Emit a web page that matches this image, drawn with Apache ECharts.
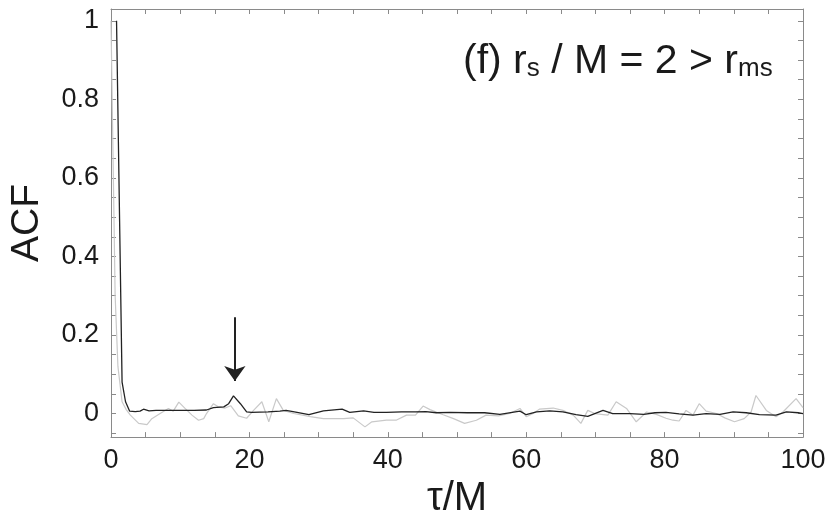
<!DOCTYPE html>
<html>
<head>
<meta charset="utf-8">
<script src="https://cdn.jsdelivr.net/npm/echarts@6/dist/echarts.min.js"></script>
<style>
html,body{margin:0;padding:0;background:#fff;}
#chart{width:830px;height:524px;}
</style>
</head>
<body>
<div id="chart"></div>
<script>
// ACF, dark curve: [tau/M, ACF]
const darkCurve = [[0.8,1.0],[1.6,0.08],[2.1,0.03],[2.7,0.006],[3.5,0.005],[4.2,0.006],[4.7,0.011],[5.5,0.007],[6.5,0.008],[8,0.008],[10,0.008],[12,0.008],[13.8,0.009],[14.8,0.015],[16.3,0.017],[17.0,0.025],[17.7,0.045],[18.7,0.025],[19.6,0.004],[20.3,0.003],[22.7,0.004],[24.4,0.006],[25.3,0.008],[26.5,0.004],[28.6,-0.003],[30.7,0.007],[33.4,0.011],[34.5,0.003],[36.5,0.007],[38,0.003],[39.8,0.003],[42,0.004],[44,0.004],[45.5,0.005],[47,0.002],[49,0.003],[51.5,0.002],[54,0.002],[56.2,-0.002],[59.1,0.006],[60,-0.003],[61.5,0.004],[63.4,0.007],[65.3,0.004],[67.2,-0.003],[68.9,-0.007],[71.1,0.008],[72.5,0.0],[75,0.0],[77,-0.002],[78.6,0.002],[80.2,0.003],[82.1,-0.001],[84.1,-0.004],[86,0.0],[88,-0.002],[89.9,0.004],[91.8,0.002],[93.7,-0.003],[96.1,-0.004],[97.6,0.004],[99.3,0.002],[100,0.0]];
// ACF, light curve: [tau/M, ACF]
const lightCurve = [[0,1.0],[0.6,0.3],[1.0,0.12],[1.6,0.03],[2.2,0.01],[2.8,-0.004],[4.0,-0.025],[5.2,-0.028],[5.9,-0.013],[7.1,0.0],[8.3,0.013],[9.0,0.006],[9.8,0.029],[10.7,0.013],[11.7,-0.004],[12.65,-0.017],[13.4,-0.013],[13.8,0],[14.8,0.025],[15.5,0.017],[16.5,0.014],[17.3,0.02],[18.4,-0.006],[19.6,-0.012],[20.6,0.008],[21.8,0.03],[22.8,-0.021],[23.9,0.038],[24.9,0.008],[26.4,0],[28.8,-0.008],[30.7,-0.013],[33.6,-0.013],[35.0,-0.011],[36.7,-0.034],[37.7,-0.021],[39.8,-0.017],[41.2,-0.017],[42.7,-0.004],[44,-0.004],[45.1,0.019],[46.1,0.01],[48.0,-0.003],[49.5,-0.013],[51.1,-0.025],[52.8,-0.017],[54.2,-0.004],[56,-0.006],[57.6,0],[59.1,0.013],[60.0,-0.008],[61,0],[61.9,0.011],[63.9,0.014],[65.3,0.008],[66.8,-0.004],[67.9,-0.025],[68.9,0.008],[69.9,0],[71.8,-0.004],[73.0,0.03],[74.5,0.013],[75.9,-0.021],[77.4,0.004],[78.8,-0.002],[80.2,-0.012],[81.2,-0.017],[82.1,-0.019],[83.1,0.008],[84.1,-0.004],[85.0,0.025],[86.0,0.006],[87.5,0.0],[88.7,-0.011],[90.1,-0.021],[91.5,-0.013],[92.5,0.004],[93.2,0.046],[94.7,0.008],[96.1,-0.008],[97.1,0.004],[99.0,0.038],[100,0.015]];
// arrow marking the feature: [tau/M, ACF] start and tip
const arrowStart = [17.9, 0.245];
const arrowEnd = [17.9, 0.083];
// ticks and labels
const xLabels = [0, 20, 40, 60, 80, 100];
const xTicks = [0,5,10,15,20,25,30,35,40,45,50,55,60,65,70,75,80,85,90,95,100];
const yLabels = [0, 0.2, 0.4, 0.6, 0.8, 1];
const yTicks = [-0.05,0,0.05,0.1,0.15,0.2,0.25,0.3,0.35,0.4,0.45,0.5,0.55,0.6,0.65,0.7,0.75,0.8,0.85,0.9,0.95,1.0];

const FONT = 'Liberation Sans, Arial, sans-serif';
const axisColor = '#8a8a8a';
const textColor = '#1a1a1a';

const chart = echarts.init(document.getElementById('chart'), null, {renderer: 'canvas'});

function xAx(pos, show) {
  return {
    type: 'value', position: pos, min: 0, max: 100,
    axisLine: {show: true, onZero: false, lineStyle: {color: axisColor, width: 1}},
    axisTick: {show: true, inside: true, length: 5, customValues: xTicks, lineStyle: {color: axisColor}},
    axisLabel: {show: show, customValues: xLabels, margin: 10, fontSize: 27, fontFamily: FONT, color: textColor},
    splitLine: {show: false},
    name: show ? 'τ/M' : '', nameLocation: 'middle', nameGap: 38,
    nameTextStyle: {fontSize: 40, fontFamily: FONT, color: textColor}
  };
}
function yAx(pos, show) {
  return {
    type: 'value', position: pos, min: -0.06, max: 1.03,
    axisLine: {show: true, onZero: false, lineStyle: {color: axisColor, width: 1}},
    axisTick: {show: true, inside: true, length: 5, customValues: yTicks, lineStyle: {color: axisColor}},
    axisLabel: {show: show, customValues: yLabels, margin: 12, fontSize: 27, fontFamily: FONT, color: textColor},
    splitLine: {show: false},
    name: show ? 'ACF' : '', nameLocation: 'middle', nameGap: 64,
    nameTextStyle: {fontSize: 39, fontFamily: FONT, color: textColor}
  };
}

chart.setOption({
  animation: false,
  backgroundColor: '#fff',
  title: {
    text: '{m|(f) r}{s|s}{m| / M = 2 > r}{s|ms}',
    left: 463, top: 39, padding: 0,
    textStyle: {
      fontWeight: 'normal',
      rich: {
        m: {fontSize: 41, fontWeight: 'normal', fontFamily: FONT, color: textColor, lineHeight: 43, verticalAlign: 'bottom'},
        s: {fontSize: 26, fontWeight: 'normal', fontFamily: FONT, color: textColor, lineHeight: 17, verticalAlign: 'bottom'}
      }
    }
  },
  grid: {left: 108, right: 27, top: 9, bottom: 85, containLabel: false},
  xAxis: [xAx('bottom', true), xAx('top', false)],
  yAxis: [yAx('left', true), yAx('right', false)],
  series: [
    {
      type: 'line', data: lightCurve, xAxisIndex: 0, yAxisIndex: 0,
      showSymbol: false, symbol: 'none', clip: true,
      lineStyle: {color: '#c9c9c9', width: 1.2}
    },
    {
      type: 'line', data: darkCurve, xAxisIndex: 0, yAxisIndex: 0,
      showSymbol: false, symbol: 'none', clip: true,
      lineStyle: {color: '#222222', width: 1.3},
      markLine: {
        silent: true, animation: false,
        symbol: ['none', 'arrow'], symbolSize: [16, 15],
        label: {show: false},
        lineStyle: {color: '#222', width: 2, type: 'solid'},
        data: [[{coord: arrowStart}, {coord: arrowEnd}]]
      }
    }
  ]
});
</script>
</body>
</html>
